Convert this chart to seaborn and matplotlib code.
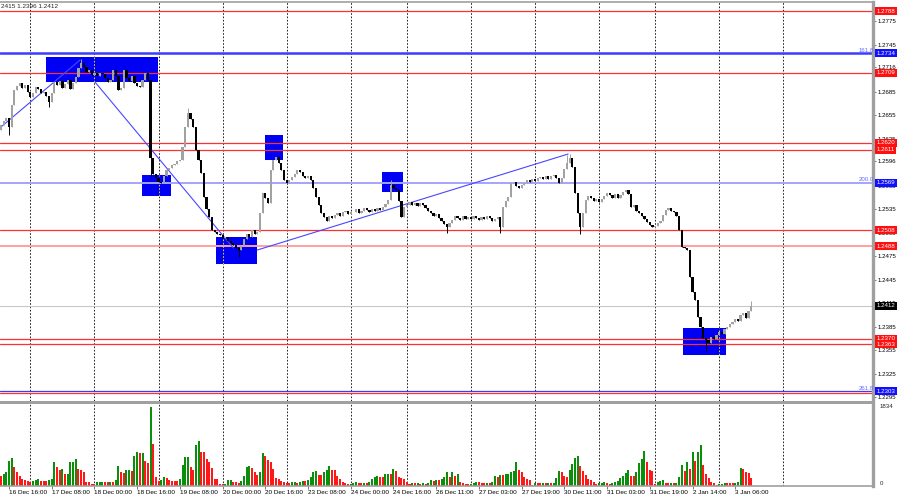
import matplotlib
matplotlib.use("Agg")
import numpy as np
import pandas as pd
import seaborn as sns
import matplotlib.pyplot as plt
from matplotlib.patches import Rectangle
from matplotlib.transforms import blended_transform_factory

# H1 closes, one value per bar (16 Dec 13:00 .. 3 Jan 13:00)
closes = [
    1.2643, 1.2648, 1.2652, 1.2640, 1.2668, 1.2687, 1.2692, 1.2696, 1.2690, 1.2694,
    1.2685, 1.2678, 1.2684, 1.2691, 1.2688, 1.2683, 1.2685, 1.2680, 1.2672, 1.2684,
    1.2697, 1.2693, 1.2699, 1.2690, 1.2695, 1.2700, 1.2688, 1.2696, 1.2704, 1.2715,
    1.2722, 1.2716, 1.2710, 1.2713, 1.2706, 1.2709, 1.2705, 1.2709, 1.2707, 1.2702,
    1.2698, 1.2700, 1.2713, 1.2705, 1.2687, 1.2690, 1.2713, 1.2702, 1.2699, 1.2705,
    1.2696, 1.2692, 1.2691, 1.2700, 1.2709, 1.2700, 1.2600, 1.2580, 1.2575, 1.2570,
    1.2568, 1.2578, 1.2585, 1.2588, 1.2591, 1.2593, 1.2596, 1.2598, 1.2614, 1.2640,
    1.2658, 1.2650, 1.2640, 1.2611, 1.2598, 1.2581, 1.2551, 1.2535, 1.2525, 1.2508,
    1.2506, 1.2504, 1.2502, 1.2498, 1.2500, 1.2495, 1.2492, 1.2490, 1.2486, 1.2483,
    1.2488, 1.2497, 1.2504, 1.2500, 1.2508, 1.2503, 1.2506, 1.2530, 1.2556, 1.2550,
    1.2543, 1.2585, 1.2598, 1.2602, 1.2594, 1.2585, 1.2572, 1.2568, 1.2572, 1.2576,
    1.2580, 1.2585, 1.2582, 1.2578, 1.2575, 1.2577, 1.2572, 1.2562, 1.2551, 1.2540,
    1.2530, 1.2525, 1.2520, 1.2526, 1.2524, 1.2528, 1.2530, 1.2527, 1.2531, 1.2533,
    1.2529, 1.2532, 1.2531, 1.2535, 1.2530, 1.2533, 1.2536, 1.2534, 1.2531, 1.2535,
    1.2533, 1.2537, 1.2534, 1.2538, 1.2542, 1.2547, 1.2566, 1.2562, 1.2560, 1.2545,
    1.2525, 1.2538, 1.2541, 1.2544, 1.2540, 1.2543, 1.2539, 1.2543, 1.2540, 1.2536,
    1.2533, 1.2530, 1.2527, 1.2529, 1.2524, 1.2520, 1.2516, 1.2512, 1.2518, 1.2521,
    1.2526, 1.2524, 1.2521, 1.2527, 1.2523, 1.2525, 1.2522, 1.2526, 1.2524, 1.2521,
    1.2525, 1.2522, 1.2526, 1.2524, 1.2520, 1.2523, 1.2525, 1.2512, 1.2538, 1.2545,
    1.2551, 1.2568, 1.2570, 1.2565, 1.2562, 1.2566, 1.2569, 1.2572, 1.2570, 1.2574,
    1.2571, 1.2575, 1.2576, 1.2573, 1.2577, 1.2574, 1.2578, 1.2579, 1.2575, 1.2568,
    1.2575, 1.2586, 1.2594, 1.2600, 1.2589, 1.2556, 1.2530, 1.2512, 1.2530, 1.2547,
    1.2552, 1.2549, 1.2546, 1.2548, 1.2544, 1.2548, 1.2552, 1.2556, 1.2553, 1.2550,
    1.2554, 1.2549, 1.2553, 1.2557, 1.2560, 1.2555, 1.2538, 1.2540, 1.2533, 1.2530,
    1.2526, 1.2522, 1.2519, 1.2515, 1.2512, 1.2514, 1.2517, 1.2520, 1.2528, 1.2534,
    1.2536, 1.2533, 1.2531, 1.2527, 1.2508, 1.2487, 1.2485, 1.2483, 1.2449, 1.2430,
    1.2419, 1.2397, 1.2385, 1.2371, 1.2368, 1.2364, 1.2372, 1.2370, 1.2374, 1.2378,
    1.2376, 1.2382, 1.2385, 1.2388, 1.2391, 1.2395, 1.2393, 1.2400, 1.2403, 1.2396,
    1.2405, 1.2412,
]
first_open = 1.2636
# the few wicks that stick out clearly
wick_high = {30: 1.2727, 70: 1.2664, 146: 1.2572, 212: 1.2604, 213: 1.2605, 281: 1.2418}
wick_low = {3: 1.2630, 18: 1.2666, 56: 1.2578, 89: 1.2474, 167: 1.2505, 187: 1.2505,
            217: 1.2503, 264: 1.2354}

volumes = [
    235, 274, 314, 588, 643, 447, 314, 235, 157, 133,
    118, 102, 118, 150, 157, 125, 118, 110, 149, 152,
    549, 431, 368, 392, 274, 280, 549, 564, 627, 392,
    376, 314, 102, 96, 39, 36, 86, 94, 102, 94,
    86, 102, 100, 133, 455, 321, 306, 368, 372, 353,
    706, 800, 760, 768, 588, 533, 1834, 980, 212, 118,
    133, 212, 180, 133, 118, 112, 108, 157, 486, 666,
    682, 431, 376, 956, 1035, 784, 780, 627, 564, 416,
    172, 168, 55, 39, 55, 133, 136, 102, 94, 71,
    118, 235, 447, 470, 416, 314, 259, 314, 768, 706,
    612, 549, 392, 180, 157, 118, 102, 78, 71, 94,
    102, 71, 94, 118, 114, 133, 212, 314, 353, 259,
    255, 314, 376, 470, 368, 362, 235, 157, 102, 78,
    39, 55, 78, 94, 78, 76, 80, 74, 102, 157,
    212, 235, 212, 208, 274, 290, 286, 392, 337, 212,
    180, 157, 102, 55, 63, 60, 66, 55, 63, 55,
    71, 133, 118, 149, 133, 157, 212, 314, 212, 314,
    235, 290, 102, 78, 55, 39, 55, 78, 102, 94,
    78, 71, 78, 74, 102, 235, 212, 259, 255, 274,
    290, 314, 353, 564, 368, 314, 212, 157, 133, 24,
    78, 74, 63, 66, 60, 63, 61, 78, 196, 337,
    314, 235, 212, 376, 510, 643, 690, 470, 353, 259,
    157, 133, 102, 55, 63, 78, 94, 63, 55, 63,
    102, 118, 180, 235, 298, 368, 235, 231, 314, 525,
    627, 823, 549, 368, 337, 55, 102, 118, 133, 71,
    68, 72, 66, 78, 220, 494, 353, 549, 392, 800,
    588, 800, 941, 494, 274, 180, 102, 63, 16, 39,
    55, 78, 71, 63, 60, 78, 82, 408, 392, 329,
    298, 180,
]
vol_max = 1834

time_labels = ["16 Dec 16:00", "17 Dec 08:00", "18 Dec 00:00", "18 Dec 16:00", "19 Dec 08:00",
               "20 Dec 00:00", "20 Dec 16:00", "23 Dec 08:00", "24 Dec 00:00", "24 Dec 16:00",
               "26 Dec 11:00", "27 Dec 03:00", "27 Dec 19:00", "30 Dec 11:00", "31 Dec 03:00",
               "31 Dec 19:00", "2 Jan 14:00", "3 Jan 06:00"]
first_label_bar = 3
label_step = 16
# bars where a new trading day starts (grid lines)
day_starts = [11, 35, 59, 83, 107, 131, 152, 176, 200, 224, 245, 269, 293]

red_levels = [1.2788, 1.2709, 1.2620, 1.2611, 1.2508, 1.2370, 1.2363]
low_red_level = 1.2300
pink_levels = [1.2488]
fib_names = ["161.8", "200.0", "261.8"]
fib_levels = [1.2734, 1.2569, 1.2303]
last_price = 1.2412
axis_ticks = [1.2775, 1.2745, 1.2716, 1.2685, 1.2655, 1.2625, 1.2596, 1.2565, 1.2535,
              1.2505, 1.2475, 1.2445, 1.2415, 1.2385, 1.2355, 1.2325, 1.2295]

# blue zones: bar from, bar to, price low, price high
zones = [(16.9, 58.8, 1.26974, 1.27293), (52.8, 63.7, 1.25519, 1.25787),
         (80.5, 95.9, 1.24651, 1.24996), (98.9, 105.6, 1.25979, 1.26298),
         (142.7, 150.6, 1.25570, 1.25825), (255.4, 271.5, 1.23490, 1.23835)]
# trend lines: (bar, price) -> (bar, price)
trends = [((0.0, 1.2640), (29.6, 1.27255)), ((35.2, 1.26974), (87.0, 1.24856)),
          ((96.0, 1.24830), (212.4, 1.26055))]

sns.set_theme(style="white")
plt.rcParams["font.family"] = ["Liberation Sans", "DejaVu Sans"]

W, H = 900, 500


def frac(x0, y0, x1, y1):
    return [x0 / W, 1 - y1 / H, (x1 - x0) / W, (y1 - y0) / H]


fig = plt.figure(figsize=(9, 5), dpi=100)
fig.patch.set_facecolor("white")
ax = fig.add_axes(frac(0, 2, 873, 401))
axv = fig.add_axes(frac(0, 404, 873, 486))
xlim = (-0.375, 326.6)

# --- candles
n = len(closes)
bars = np.arange(n)
opens = [first_open] + closes[:-1]
df = pd.DataFrame({"bar": bars, "open": opens, "close": closes})
df["high"] = df[["open", "close"]].max(axis=1)
df["low"] = df[["open", "close"]].min(axis=1)
for k, v in wick_high.items():
    df.loc[k, "high"] = v
for k, v in wick_low.items():
    df.loc[k, "low"] = v
df["up"] = df["close"] >= df["open"]
df["body"] = (df["close"] - df["open"]).abs().clip(lower=0.00004)
candle_col = np.where(df["up"], "#a2a2a2", "#000000")

for z in zones:
    ax.add_patch(Rectangle((z[0], z[2]), z[1] - z[0], z[3] - z[2], color="#0000f5", lw=0, zorder=1))

for d in day_starts:
    for a in (ax, axv):
        a.axvline(d, color="#000000", lw=0.6, ls=(0, (2, 2)), zorder=0.5)
    for z in zones:
        if z[0] < d < z[1]:
            ax.plot([d, d], [z[2], z[3]], color="#ffff00", lw=0.6, ls=(0, (2, 2)), zorder=1.5)

for lv in red_levels + [low_red_level]:
    ax.axhline(lv, color="#ff3030", lw=0.9, zorder=2)
for lv in pink_levels:
    ax.axhline(lv, color="#ffa0a0", lw=1.4, zorder=2)
ax.axhline(fib_levels[0], color="#3c3cff", lw=1.8, zorder=2)
ax.axhline(fib_levels[1], color="#a4a4ff", lw=1.4, zorder=2)
ax.axhline(fib_levels[2], color="#3c3cff", lw=0.9, zorder=2)
ax.axhline(last_price, color="#c8c8c8", lw=0.8, zorder=2)

for (b0, p0), (b1, p1) in trends:
    ax.plot([b0, b1], [p0, p1], color="#4848ff", lw=0.8, zorder=2.5)

ax.vlines(df["bar"], df["low"], df["high"], colors=candle_col, lw=0.7, zorder=4)
ax.bar(df["bar"], df["body"], bottom=df[["open", "close"]].min(axis=1), width=0.82,
       color=candle_col, linewidth=0, zorder=5)

ax.set_xlim(*xlim)
ax.set_ylim(1.22903, 1.27995)
ax.set_xticks([])
ax.yaxis.tick_right()
ax.set_yticks(axis_ticks)
ax.set_yticklabels([f"{t:.4f}" for t in axis_ticks])
ax.tick_params(axis="y", right=True, length=2, width=0.6, color="#606060", pad=1.5,
               labelsize=4.4, labelcolor="#000000")
for s in ("left", "bottom"):
    ax.spines[s].set_visible(False)
ax.spines["top"].set_color("#a0a0a0")
ax.spines["top"].set_linewidth(1.2)
ax.spines["right"].set_color("#a0a0a0")
ax.spines["right"].set_linewidth(2.4)

tr = blended_transform_factory(ax.transAxes, ax.transData)
box_kw = dict(transform=tr, ha="left", va="center", fontsize=4.4, color="white",
              clip_on=False, zorder=10)
for lv in red_levels + pink_levels:
    ax.text(1.004, lv, f"{lv:.4f}", bbox=dict(boxstyle="square,pad=0.25", fc="#ff1010", ec="none"), **box_kw)
for name, lv in zip(fib_names, fib_levels):
    ax.text(1.004, lv, f"{lv:.4f}", bbox=dict(boxstyle="square,pad=0.25", fc="#1010ff", ec="none"), **box_kw)
    ax.text(0.9835, lv + 0.00006, name, transform=tr, ha="left", va="bottom", fontsize=4.4,
            color="#6a6aff", zorder=6)
ax.text(1.004, last_price, f"{last_price:.4f}", bbox=dict(boxstyle="square,pad=0.25", fc="#000000", ec="none"), **box_kw)

fig.text(1 / W, 1 - 7 / H, "2415 1.2396 1.2412", fontsize=4.6, va="center", ha="left")

# --- volumes
vol_df = pd.DataFrame({"bar": bars, "volume": volumes})
vol_df["dir"] = np.where(vol_df["volume"].diff() > 0, "up", "down")
sns.barplot(data=vol_df, x="bar", y="volume", hue="dir", palette={"up": "#0b8f0b", "down": "#ff1818"},
            native_scale=True, width=0.75, dodge=False, saturation=1, errorbar=None,
            legend=False, linewidth=0, ax=axv)
axv.set_xlim(*xlim)
axv.set_ylim(0, vol_max * 82 / 79)
axv.set_xlabel("")
axv.set_ylabel("")
axv.set_yticks([])
label_bars = [first_label_bar + label_step * k for k in range(len(time_labels))]
axv.set_xticks(label_bars)
axv.set_xticklabels(time_labels, ha="left")
axv.tick_params(axis="x", bottom=True, length=2, width=0.6, color="#606060", pad=1,
                labelsize=4.6, labelcolor="#000000")
axv.spines["left"].set_visible(False)
axv.spines["top"].set_visible(False)
axv.spines["bottom"].set_color("#a0a0a0")
axv.spines["bottom"].set_linewidth(1.2)
axv.spines["right"].set_color("#a0a0a0")
axv.spines["right"].set_linewidth(2.4)
trv = blended_transform_factory(axv.transAxes, axv.transData)
axv.text(1.008, vol_max, str(vol_max), transform=trv, ha="left", va="center", fontsize=4.4)
axv.text(1.008, 0, "0", transform=trv, ha="left", va="bottom", fontsize=4.4)

# grey separator between the two panels
fig.patches.append(Rectangle((0, 1 - 404 / H), 875 / W, 3 / H, transform=fig.transFigure,
                             color="#a0a0a0", lw=0))

fig.savefig("out.png", dpi=100)
